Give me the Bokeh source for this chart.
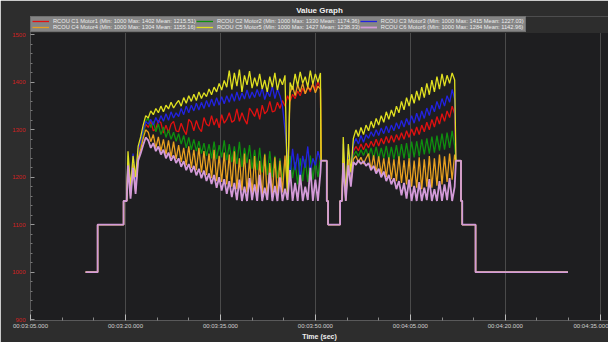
import numpy as np
from bokeh.plotting import figure
from bokeh.models import Range1d, FixedTicker, Legend, LegendItem, BoxAnnotation
from bokeh.embed import file_html
from bokeh.resources import INLINE

# ---------------- data ----------------
x_tick_values = [185, 200, 215, 230, 245, 260, 275]
x_tick_labels = ["00:03:05.000", "00:03:20.000", "00:03:35.000", "00:03:50.000",
                 "00:04:05.000", "00:04:20.000", "00:04:35.000"]
y_tick_values = [900, 1000, 1100, 1200, 1300, 1400, 1500]

series_names = [
    "RCOU C1 Motor1 (Min: 1000 Max: 1402 Mean: 1215.51)",
    "RCOU C2 Motor2 (Min: 1000 Max: 1330 Mean: 1174.36)",
    "RCOU C3 Motor3 (Min: 1000 Max: 1415 Mean: 1227.03)",
    "RCOU C4 Motor4 (Min: 1000 Max: 1304 Mean: 1155.16)",
    "RCOU C5 Motor5 (Min: 1000 Max: 1427 Mean: 1238.33)",
    "RCOU C6 Motor6 (Min: 1000 Max: 1284 Mean: 1142.96)",
]
series_colors = ["#e01010", "#0f8f0f", "#2222e0", "#e8a020", "#e0e020", "#d39ad8"]
series_widths = [1.3, 1.3, 1.3, 1.3, 1.3, 1.8]

# idle / step segments shared by all motors (time s, PWM value)
pre_t = [193.7, 195.6, 195.6, 199.7, 199.7, 200.2]
pre_v = [1000, 1000, 1100, 1100, 1150, 1150]
mid_t = [230.9, 231.8, 231.8, 232.0, 232.0, 233.9, 233.9, 234.2]
mid_v = [1235, 1235, 1150, 1150, 1100, 1100, 1150, 1150]
post_t = [252.2, 253.0, 253.0, 253.2, 253.2, 255.3, 255.3, 269.9]
post_v = [1235, 1235, 1150, 1150, 1100, 1100, 1000, 1000]

flight1_start = 200.4
flight2_start = 234.4
sample_dt = 0.4

f1_m1 = [1235, 1170, 1238, 1180, 1250, 1268, 1292, 1312,
         1305, 1318, 1298, 1302, 1320, 1315, 1293, 1310, 1294, 1312, 1318, 1298,
         1296, 1314, 1300, 1290, 1322, 1316, 1298, 1320, 1304, 1296,
         1326, 1312, 1308, 1330, 1310, 1324, 1304, 1332, 1314, 1322,
         1336, 1316, 1320, 1344, 1318, 1336, 1322, 1312, 1346, 1338,
         1328, 1345, 1322, 1352, 1334, 1340, 1360, 1338, 1340, 1358,
         1345, 1362, 1350, 1372, 1360, 1375, 1366, 1382, 1372, 1388,
         1376, 1392, 1380, 1398, 1384, 1402, 1388]
f1_m2 = [1245, 1165, 1235, 1175, 1245, 1262, 1290, 1318,
         1325, 1305, 1318, 1296, 1312, 1290, 1306, 1284, 1300, 1280, 1295, 1276,
         1292, 1270, 1288, 1262, 1284, 1258, 1280, 1255, 1276, 1250,
         1272, 1245, 1270, 1240, 1275, 1238, 1268, 1242, 1278, 1236,
         1270, 1232, 1265, 1228, 1275, 1222, 1262, 1230, 1268, 1218,
         1258, 1215, 1262, 1210, 1250, 1205, 1255, 1200, 1245, 1198,
         1240, 1195, 1235, 1190, 1245, 1198, 1232, 1185, 1240, 1192,
         1238, 1190, 1246, 1195, 1236, 1200, 1242]
f1_m3 = [1240, 1175, 1250, 1185, 1258, 1275, 1300, 1318,
         1312, 1322, 1310, 1326, 1314, 1330, 1318, 1334, 1320, 1338, 1325, 1336,
         1328, 1345, 1332, 1350, 1336, 1352, 1340, 1356, 1342, 1358,
         1345, 1362, 1348, 1365, 1350, 1368, 1352, 1370, 1355, 1372,
         1358, 1376, 1360, 1380, 1362, 1378, 1365, 1384, 1366, 1380,
         1368, 1385, 1370, 1388, 1364, 1382, 1370, 1392, 1366, 1386,
         1372, 1350, 1300, 1240, 1205, 1260, 1215, 1250, 1195, 1245,
         1220, 1265, 1210, 1240, 1225, 1255, 1235]
f1_m4 = [1230, 1160, 1228, 1170, 1240, 1258, 1282, 1300,
         1295, 1275, 1290, 1262, 1285, 1255, 1280, 1248, 1278, 1242, 1275, 1238,
         1268, 1232, 1262, 1225, 1265, 1220, 1258, 1215, 1262, 1210,
         1255, 1205, 1250, 1198, 1258, 1192, 1245, 1190, 1252, 1185,
         1248, 1180, 1255, 1175, 1240, 1172, 1250, 1168, 1238, 1165,
         1245, 1162, 1235, 1160, 1248, 1158, 1230, 1165, 1242, 1160,
         1235, 1168, 1246, 1170, 1378, 1392, 1372, 1395, 1380, 1398,
         1376, 1390, 1384, 1396, 1378, 1392, 1386]
f1_m5 = [1255, 1180, 1245, 1200, 1265, 1285, 1310, 1330,
         1325, 1340, 1332, 1345, 1336, 1350, 1338, 1352, 1344, 1358, 1346, 1355,
         1362, 1350, 1368, 1356, 1372, 1360, 1375, 1362, 1380, 1366,
         1378, 1370, 1386, 1374, 1390, 1380, 1398, 1384, 1404, 1390,
         1425, 1385, 1420, 1392, 1427, 1380, 1415, 1395, 1424, 1388,
         1410, 1392, 1418, 1386, 1405, 1380, 1412, 1390, 1420, 1384,
         1408, 1395, 1415, 1160, 1400, 1385, 1418, 1392, 1422, 1398,
         1412, 1390, 1425, 1396, 1418, 1400, 1420]
f1_m6 = [1225, 1155, 1220, 1165, 1235, 1250, 1268, 1284,
         1278, 1262, 1272, 1255, 1265, 1248, 1258, 1240, 1252, 1235, 1246, 1230,
         1240, 1222, 1234, 1215, 1228, 1210, 1224, 1204, 1218, 1198,
         1214, 1192, 1208, 1186, 1205, 1178, 1200, 1172, 1196, 1165,
         1192, 1158, 1188, 1152, 1195, 1150, 1180, 1150, 1198, 1152,
         1185, 1150, 1205, 1150, 1178, 1152, 1210, 1150, 1182, 1150,
         1200, 1150, 1176, 1152, 1215, 1150, 1188, 1150, 1205, 1150,
         1180, 1152, 1220, 1150, 1195, 1150, 1210]

f2_m1 = [1260, 1152, 1255, 1195, 1255, 1265, 1256, 1270, 1258, 1272,
         1262, 1276, 1265, 1280, 1266, 1282, 1270, 1286, 1272, 1288,
         1274, 1290, 1278, 1294, 1280, 1298, 1284, 1302, 1288, 1306,
         1290, 1310, 1296, 1316, 1300, 1322, 1306, 1328, 1312, 1334,
         1318, 1340, 1326, 1350, 1334]
f2_m2 = [1250, 1150, 1245, 1190, 1245, 1255, 1244, 1258, 1246, 1260,
         1242, 1262, 1240, 1264, 1238, 1262, 1240, 1266, 1236, 1264,
         1238, 1268, 1235, 1270, 1240, 1272, 1238, 1275, 1242, 1276,
         1244, 1280, 1248, 1282, 1250, 1286, 1252, 1288, 1256, 1292,
         1258, 1294, 1262, 1298, 1266]
f2_m3 = [1270, 1155, 1262, 1200, 1268, 1282, 1270, 1288, 1274, 1290,
         1282, 1296, 1286, 1300, 1288, 1304, 1292, 1308, 1294, 1310,
         1298, 1315, 1302, 1320, 1306, 1324, 1310, 1330, 1314, 1335,
         1318, 1340, 1324, 1346, 1330, 1352, 1338, 1360, 1344, 1366,
         1350, 1372, 1358, 1385, 1365]
f2_m4 = [1240, 1150, 1238, 1185, 1238, 1245, 1232, 1242, 1228, 1240,
         1250, 1215, 1246, 1210, 1244, 1205, 1240, 1200, 1242, 1196,
         1238, 1192, 1244, 1188, 1236, 1185, 1240, 1180, 1235, 1178,
         1242, 1175, 1238, 1180, 1245, 1178, 1240, 1182, 1248, 1185,
         1244, 1190, 1250, 1195, 1248]
f2_m5 = [1285, 1160, 1270, 1210, 1282, 1300, 1286, 1305, 1290, 1310,
         1298, 1318, 1304, 1324, 1310, 1330, 1316, 1338, 1322, 1342,
         1328, 1350, 1336, 1360, 1342, 1368, 1350, 1375, 1356, 1382,
         1362, 1390, 1368, 1398, 1374, 1405, 1380, 1412, 1386, 1418,
         1392, 1415, 1398, 1420, 1405]
f2_m6 = [1230, 1150, 1225, 1180, 1232, 1226, 1236, 1228, 1234, 1224,
         1230, 1215, 1224, 1208, 1218, 1200, 1212, 1192, 1205, 1185,
         1198, 1175, 1192, 1162, 1188, 1155, 1195, 1150, 1182, 1150,
         1190, 1150, 1178, 1152, 1196, 1150, 1175, 1150, 1192, 1150,
         1185, 1152, 1198, 1150, 1180]

flight1 = [f1_m1, f1_m2, f1_m3, f1_m4, f1_m5, f1_m6]
flight2 = [f2_m1, f2_m2, f2_m3, f2_m4, f2_m5, f2_m6]

# ---------------- figure ----------------
FONT = "Liberation Sans"
BORDER = "#2d2d2d"
p = figure(width=608, height=342, output_backend="svg", toolbar_location=None,
           x_range=Range1d(185, 276.3), y_range=Range1d(898, 1539),
           background_fill_color="#1e1e20", border_fill_color=BORDER,
           min_border_left=30, min_border_right=0, min_border_top=16, min_border_bottom=17)
p.outline_line_color = None

p.title.text = "Value Graph"
p.title.align = "center"
p.title.text_color = "#f0f0f0"
p.title.text_font = FONT
p.title.text_font_size = "8px"
p.title.text_font_style = "bold"
p.title.standoff = 3
p.title.offset = 0

# strip above the value area (legend row) in the border colour
p.add_layout(BoxAnnotation(bottom=1504, fill_color=BORDER, fill_alpha=1.0, line_color=None))

items = []
for name, col, lw, v1, v2 in zip(series_names, series_colors, series_widths, flight1, flight2):
    t1 = list(np.round(flight1_start + sample_dt * np.arange(len(v1)), 2))
    t2 = list(np.round(flight2_start + sample_dt * np.arange(len(v2)), 2))
    ts = pre_t + t1 + mid_t + t2 + post_t
    vs = pre_v + v1 + mid_v + v2 + post_v
    r = p.line(ts, vs, line_color=col, line_width=lw)
    items.append(LegendItem(label=name, renderers=[r]))

legend = Legend(items=items, orientation="horizontal", ncols=3, location="top_left",
                label_text_font=FONT, label_text_font_size="5.7px",
                label_text_color="#ececec", label_height=5, glyph_height=4,
                glyph_width=17, label_standoff=4, spacing=0, padding=1, margin=0,
                background_fill_color="#858585", background_fill_alpha=1.0,
                border_line_color="#5c5c5c", border_line_width=1)
p.add_layout(legend)

# x axis
p.xaxis.ticker = FixedTicker(ticks=x_tick_values,
                             minor_ticks=[190, 195, 205, 210, 220, 225, 235, 240, 250, 255, 265, 270])
p.xaxis.major_label_overrides = {v: s for v, s in zip(x_tick_values, x_tick_labels)}
p.xaxis.major_label_text_font = FONT
p.xaxis.major_label_text_font_size = "6px"
p.xaxis.major_label_text_color = "#d0d0d0"
p.xaxis.major_label_standoff = 2
p.xaxis.major_tick_in = 6
p.xaxis.major_tick_out = 0
p.xaxis.minor_tick_in = 3
p.xaxis.minor_tick_out = 0
p.xaxis.major_tick_line_color = "#bbbbbb"
p.xaxis.minor_tick_line_color = "#888888"
p.xaxis.axis_line_color = None
p.xaxis.axis_label = "Time (sec)"
p.xaxis.axis_label_text_font = FONT
p.xaxis.axis_label_text_font_size = "7px"
p.xaxis.axis_label_text_font_style = "bold"
p.xaxis.axis_label_text_color = "#f0f0f0"
p.xaxis.axis_label_standoff = 1

# y axis
y_minor = [v for v in range(900, 1501, 20) if v not in y_tick_values]
p.yaxis.ticker = FixedTicker(ticks=y_tick_values, minor_ticks=y_minor)
p.yaxis.major_label_text_font = FONT
p.yaxis.major_label_text_font_size = "6px"
p.yaxis.major_label_text_color = "#d02222"
p.yaxis.major_label_standoff = 5
p.yaxis.major_tick_in = 4
p.yaxis.major_tick_out = 0
p.yaxis.minor_tick_in = 2
p.yaxis.minor_tick_out = 0
p.yaxis.major_tick_line_color = "#999999"
p.yaxis.minor_tick_line_color = "#777777"
p.yaxis.axis_line_color = None

p.xgrid.grid_line_color = "#4a4a4a"
p.xgrid.grid_line_width = 1
p.ygrid.grid_line_color = None

open("out.html", "w").write(file_html(p, INLINE))
